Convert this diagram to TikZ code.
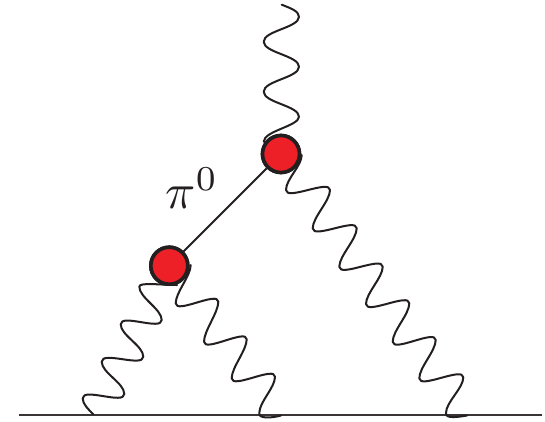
\documentclass[tikz,border=0pt]{standalone}
\usetikzlibrary{calc}
\definecolor{blobred}{RGB}{237,32,39}
\definecolor{inkdark}{RGB}{35,31,32}
\tikzset{
  wv/.style={to path={.. controls ($(\tikztostart)+(0,#1)$) and ($(\tikztotarget)-(0,#1)$) .. (\tikztotarget)}},
  wv/.default=11,
  wave/.style={draw=inkdark,line width=2pt,line cap=round,line join=round},
  blob/.style={circle,draw=inkdark,fill=blobred,line width=3.6pt,minimum size=37pt,inner sep=0pt},
  fermion/.style={draw=inkdark!90,line width=2pt},
  stem/.style={draw=inkdark,line width=2pt}
}
\begin{document}
\begin{tikzpicture}[x=1pt,y=-1pt]
\useasboundingbox (0,0) rectangle (545,421);
\coordinate (lineL) at (19,415);
\coordinate (lineR) at (542,415);
\draw[fermion] (lineL) -- (lineR);
\node[blob] (top) at (281,154) {};
\node[blob] (low) at (169.3,265.7) {};
\draw[stem] (top) -- (low);
% outgoing photon
\draw[wave] (281.7,4.7) .. controls (290,8) and (299,11) .. (299,16.7)
  to[wv] (263.7,41.7) to[wv] (299,66.7) to[wv] (263.7,91.7) to[wv] (299,116.7)
  .. controls (299,126) and (263.7,131) .. (263.7,141.7);
% long right photon
\draw[wave] (301.7,155) to[wv] (286,190) to[wv] (330,190) to[wv] (312.7,228.3)
  to[wv] (356.7,228.3) to[wv] (339.3,266.7) to[wv] (382.7,266.7) to[wv] (366,304)
  to[wv] (409.3,303.3) to[wv] (392.7,341.7) to[wv] (435.7,340) to[wv] (419.3,378.3)
  to[wv] (463.3,377.3) to[wv] (446,413)
  .. controls (445,419) and (458,417) .. (467,415.5);
% short right photon
\draw[wave] (190.7,265) to[wv] (175.7,303.3) to[wv] (218.3,301.7) to[wv] (204,341.7)
  to[wv] (246.7,339.3) to[wv] (231.7,378.3) to[wv] (275,376.7) to[wv] (259.3,413)
  .. controls (258,419) and (272,418) .. (281,415.5);
% left photon
\draw[wave] (177,285) .. controls (160,285) and (139.3,282) .. (139.3,286.7)
  to[wv] (161.7,320) to[wv] (120.7,324.3) to[wv] (143.3,356.7) to[wv] (101.7,361.7)
  to[wv] (124.3,394) to[wv] (82.7,398.3) .. controls (82.7,404) and (88,409) .. (93.3,414.3);
\node[blob] at (top) {};
\node[blob] at (low) {};
\node[scale=5,text=inkdark] (pilabel) at (192,188) {$\pi^0$};
\end{tikzpicture}
\end{document}
